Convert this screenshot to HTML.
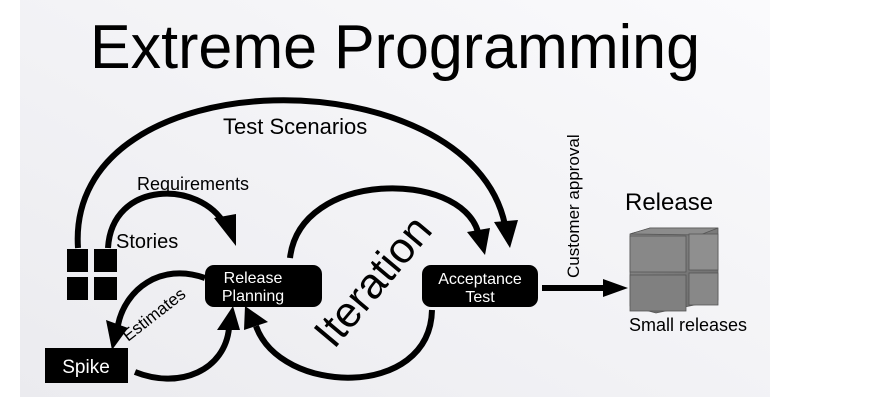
<!DOCTYPE html>
<html><head><style>
html,body{margin:0;padding:0;background:#fff;}
svg{display:block;}
text{font-family:"Liberation Sans",sans-serif;}
</style></head><body>
<svg width="880" height="405" viewBox="0 0 880 405" xmlns="http://www.w3.org/2000/svg">
<defs>
<linearGradient id="bg" x1="0" y1="1" x2="1" y2="0">
<stop offset="0" stop-color="#ebebef"/><stop offset="1" stop-color="#fafafc"/>
</linearGradient>
<linearGradient id="cf" x1="0" y1="0" x2="1" y2="1">
<stop offset="0" stop-color="#8a8a8a"/><stop offset="1" stop-color="#6a6a6a"/>
</linearGradient>
</defs>
<rect x="20" y="0" width="750" height="397" fill="url(#bg)"/>
<text x="90" y="68" font-size="62" textLength="610" lengthAdjust="spacingAndGlyphs" fill="#000">Extreme Programming</text>

<g fill="none" stroke="#000" stroke-width="6">
<path d="M78 248 C 65 55, 470 55, 505 225"/>
<path d="M108 248 C 112 180, 200 180, 225 225"/>
<path d="M290 258 C 300 170, 460 170, 478 232"/>
<path d="M432 310 C 430 400, 280 395, 256 326"/>
<path d="M135 372 C 180 390, 225 370, 229 328"/>
<path d="M205 278 C 160 262, 125 290, 118 325"/>
<path d="M542 288 L 605 288"/>
</g>
<g fill="#000">
<polygon points="494,222 518,220 510,248"/>
<polygon points="214,218 236,214 236,246"/>
<polygon points="467,232 490,228 485,255"/>
<polygon points="244,330 268,322 245,306"/>
<polygon points="217,330 240,330 233,306"/>
<polygon points="106,320 128,328 112,350"/>
<polygon points="603,279 628,288 603,297"/>
<rect x="67" y="249" width="21" height="23"/>
<rect x="94" y="249" width="23" height="23"/>
<rect x="67" y="277" width="21" height="23"/>
<rect x="94" y="277" width="23" height="23"/>
<rect x="205" y="265" width="117" height="42" rx="9"/>
<rect x="422" y="265" width="116" height="42" rx="9"/>
<rect x="45" y="348" width="83" height="35"/>
</g>
<g fill="#fff" font-size="16" text-anchor="middle">
<text x="253" y="283">Release</text>
<text x="253" y="301">Planning</text>
<text x="480" y="284">Acceptance</text>
<text x="480" y="302">Test</text>
<text x="86" y="373" font-size="19">Spike</text>
</g>
<g fill="#000">
<text x="223" y="134" font-size="22">Test Scenarios</text>
<text x="137" y="190" font-size="18">Requirements</text>
<text x="116" y="248" font-size="20">Stories</text>
<text x="0" y="0" font-size="17" transform="translate(128,342) rotate(-38)">Estimates</text>
<text x="0" y="0" font-size="43" transform="translate(334,350) rotate(-50)">Iteration</text>
<text x="0" y="0" font-size="17" transform="translate(579,278) rotate(-90)">Customer approval</text>
<text x="625" y="210" font-size="24">Release</text>
<text x="629" y="331" font-size="18">Small releases</text>
</g>
<g stroke="#555" stroke-width="0.8">
<polygon points="630,234 650,228 718,228 718,300 656,313 630,306" fill="url(#cf)"/>
<polygon points="630,234 650,228 718,228 700,235" fill="#8c8c8c"/>
<rect x="630" y="236" width="56" height="36" fill="#888"/>
<rect x="689" y="234" width="29" height="36" fill="#8f8f8f"/>
<rect x="630" y="275" width="56" height="36" fill="#808080"/>
<rect x="689" y="273" width="29" height="32" fill="#888"/>
</g>
</svg>
</body></html>
